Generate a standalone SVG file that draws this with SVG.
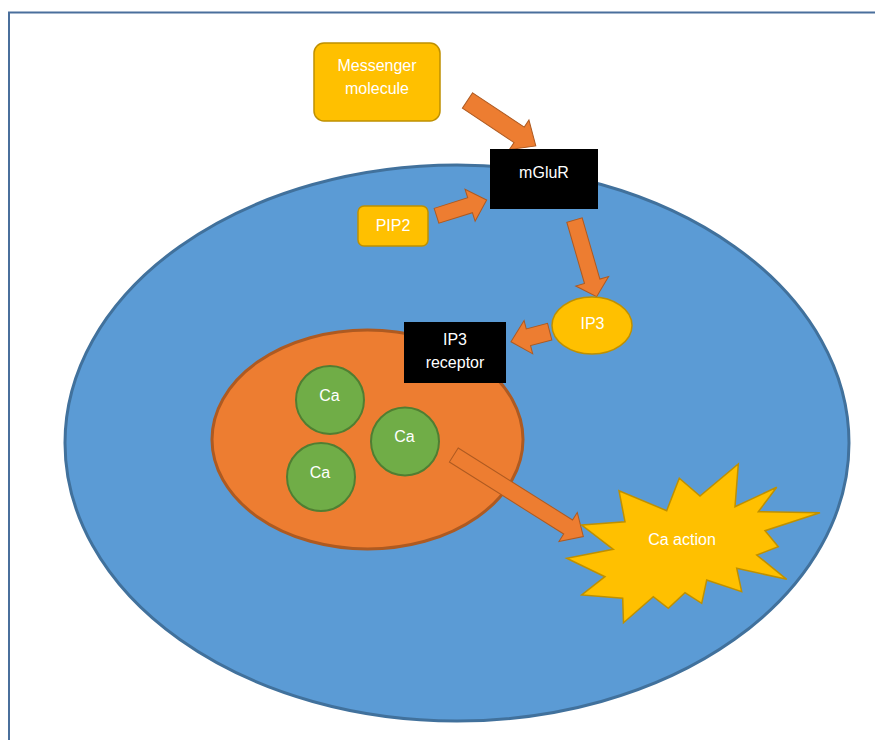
<svg xmlns="http://www.w3.org/2000/svg" width="875" height="740" viewBox="0 0 875 740">
  <style>
    .lbl { font-family: "Liberation Sans", Arial, sans-serif; font-size: 16px; fill: #ffffff; text-anchor: middle; }
    .gold { fill: #FFC000; stroke: #BF9000; stroke-width: 1.5; }
    .dark { fill: #000000; }
    .ca { fill: #70AD47; stroke: #507E32; stroke-width: 2; }
    .flow { fill: #ED7D31; stroke: #AE5A21; stroke-width: 1; }
  </style>

  <rect width="875" height="740" fill="#ffffff"/>
  <!-- page frame -->
  <rect x="9" y="12.5" width="900" height="800" fill="none" stroke="#4A6F9C" stroke-width="2"/>

  <!-- cell body -->
  <g id="cell">
    <ellipse cx="457" cy="443" rx="392" ry="278" fill="#5B9BD5" stroke="#41719C" stroke-width="3"/>
  </g>

  <!-- endoplasmic store -->
  <g id="store">
    <ellipse cx="367.5" cy="439.5" rx="155.5" ry="109.5" fill="#ED7D31" stroke="#AE5A21" stroke-width="3"/>
  </g>

  <g id="ca1">
    <circle class="ca" cx="330" cy="400" r="34"/>
    <text class="lbl" x="329.5" y="401">Ca</text>
  </g>
  <g id="ca2">
    <circle class="ca" cx="405" cy="441.5" r="34"/>
    <text class="lbl" x="404.5" y="442">Ca</text>
  </g>
  <g id="ca3">
    <circle class="ca" cx="321" cy="477" r="34"/>
    <text class="lbl" x="320" y="478">Ca</text>
  </g>

  <!-- block arrows -->
  <g id="connectors">
    <path class="flow" transform="translate(467.5,100.5) rotate(33.6)" d="M0,-9.25 L62,-9.25 L62,-17.7 L82,0 L62,17.7 L62,9.25 L0,9.25 Z"/>
    <path class="flow" transform="translate(436.5,215.8) rotate(-17.5)" d="M0,-7.8 L35.2,-7.8 L35.2,-16.8 L52.6,0 L35.2,16.8 L35.2,7.8 L0,7.8 Z"/>
    <path class="flow" transform="translate(574.5,220) rotate(73.9)" d="M0,-8 L63.8,-8 L63.8,-17.1 L79.8,0 L63.8,17.1 L63.8,8 L0,8 Z"/>
    <path class="flow" transform="translate(549.7,331.7) rotate(165.5)" d="M0,-8.6 L22,-8.6 L22,-17.2 L40,0 L22,17.2 L22,8.6 L0,8.6 Z"/>
    <path class="flow" transform="translate(453.8,455) rotate(32.2)" d="M0,-8.3 L135.1,-8.3 L135.1,-17.2 L153.1,0 L135.1,17.2 L135.1,8.3 L0,8.3 Z"/>
  </g>

  <g id="messenger">
    <rect class="gold" x="314" y="43" width="126" height="78" rx="10"/>
    <text class="lbl" x="377" y="71">Messenger</text>
    <text class="lbl" x="377" y="94">molecule</text>
  </g>

  <g id="mglur">
    <rect class="dark" x="490" y="149" width="108" height="60"/>
    <text class="lbl" x="544" y="178">mGluR</text>
  </g>

  <g id="pip2">
    <rect class="gold" x="358" y="206" width="70" height="40" rx="6"/>
    <text class="lbl" x="393" y="231">PIP2</text>
  </g>

  <g id="ip3">
    <ellipse class="gold" cx="592" cy="325.5" rx="40" ry="28.5"/>
    <text class="lbl" x="592.5" y="328.5">IP3</text>
  </g>

  <g id="ip3-receptor">
    <rect class="dark" x="404" y="322" width="102" height="61"/>
    <text class="lbl" x="455" y="345">IP3</text>
    <text class="lbl" x="455" y="368">receptor</text>
  </g>

  <g id="ca-action">
    <polygon class="gold" points="581.7,525 625,521.7 619,490.7 666.7,510.7 679.3,478.3 700,496 738.3,464 735,506.7 776.7,487.3 758.3,511.7 820,512.7 765,530.7 778.3,546.7 756.7,555 786.7,579.3 736.7,568.3 741.7,591.7 706.7,580 701.7,603.3 685,592.7 668.3,608.3 653.3,596.7 623.5,622.7 622.7,598.3 581.7,595 605,576.7 566.7,558.3 613.3,549.3"/>
    <text class="lbl" x="682" y="545">Ca action</text>
  </g>
</svg>
